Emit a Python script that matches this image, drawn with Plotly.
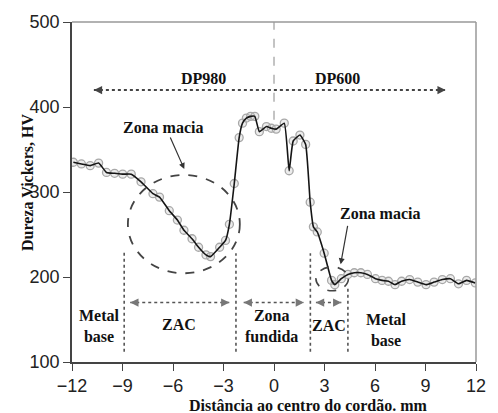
import plotly.graph_objects as go

# Hardness profile data
dist_mm = [-11.92, -11.44, -10.92, -10.42, -9.95, -9.47, -8.99, -8.48, -7.9, -7.19,
           -6.8, -6.22, -5.74, -5.35, -4.87, -4.48, -4.04, -3.77, -3.23, -2.88,
           -2.65, -2.36, -2.07, -1.87, -1.64, -1.39, -1.14, -0.87, -0.45, -0.16,
           0.13, 0.61, 0.9, 1.14, 1.54, 1.88, 2.15, 2.34, 2.57, 2.98,
           3.42, 3.61, 4.0, 4.39, 4.77, 5.16, 5.55, 6.03, 6.42, 6.8,
           7.19, 7.58, 8.06, 8.54, 9.03, 9.51, 10.0, 10.48, 10.96, 11.44, 11.96]
hardness_hv = [335, 333, 331, 334, 323, 322, 321, 321, 312, 298,
               294, 278, 267, 255, 245, 235, 226, 224, 235, 243,
               262, 310, 364, 381, 387, 389, 389, 371, 377, 375,
               374, 381, 325, 360, 367, 356, 288, 259, 253, 228,
               196, 191, 198, 203, 205, 205, 203, 198, 196, 195,
               191, 195, 197, 194, 191, 194, 197, 198, 192, 196, 193]

x_ticks = [-12, -9, -6, -3, 0, 3, 6, 9, 12]
y_ticks = [100, 200, 300, 400, 500]

# zone boundaries and labels
zone_bounds = [-8.9, -2.26, 2.16, 4.39]
zone_bound_top = [230, 228, 228, 188]
zone_arrows = [(-8.54, -2.65), (-1.8, 1.78), (2.49, 4.0)]
zone_labels = ["Metal<br>base", "ZAC", "Zona<br>fundida", "ZAC", "Metal<br>base"]
zone_label_x = [-10.38, -5.64, -0.16, 3.26, 6.68]
zone_label_y = [142, 144, 142, 143, 138]

serif = "Liberation Serif"
txt_col = "#111111"

fig = go.Figure()

# vertical dashed centre line
fig.add_trace(go.Scatter(x=[0, 0], y=[385, 500], mode="lines",
                         line=dict(color="#888888", width=1, dash="dash"),
                         hoverinfo="skip", showlegend=False))

# DP arrow line
fig.add_trace(go.Scatter(x=[-10.7, 10.2], y=[420, 420], mode="lines",
                         line=dict(color="#444444", width=1.8, dash="dot"),
                         hoverinfo="skip", showlegend=False))

# zone boundary dotted lines
for xb, yt in zip(zone_bounds, zone_bound_top):
    fig.add_trace(go.Scatter(x=[xb, xb], y=[112, yt], mode="lines",
                             line=dict(color="#555555", width=1.6, dash="dot"),
                             hoverinfo="skip", showlegend=False))

# zone horizontal arrows
for a, b in zone_arrows:
    fig.add_trace(go.Scatter(x=[a, b], y=[170, 170], mode="lines",
                             line=dict(color="#555555", width=1.6, dash="dot"),
                             hoverinfo="skip", showlegend=False))

# data markers (under the line)
fig.add_trace(go.Scatter(x=dist_mm, y=hardness_hv, mode="markers",
                         marker=dict(symbol="circle", size=8,
                                     color="rgba(200,200,200,0.35)",
                                     line=dict(color="#a8a8a8", width=1.3)),
                         hoverinfo="skip", showlegend=False))
# data line
fig.add_trace(go.Scatter(x=dist_mm, y=hardness_hv, mode="lines",
                         line=dict(color="#151515", width=1.6, shape="spline", smoothing=0.4),
                         showlegend=False))

ann = []
# arrowheads
def head(x, y, dx, dy, col="#444444"):
    ann.append(dict(x=x, y=y, xref="x", yref="y", ax=dx, ay=dy, text="",
                    showarrow=True, arrowhead=2, arrowsize=1.1, arrowwidth=1.5,
                    arrowcolor=col, standoff=0, startstandoff=0))

head(-10.7, 420, 8, 0)
head(10.2, 420, -8, 0)
for a, b in zone_arrows:
    head(a, 170, 8, 0, "#777777")
    head(b, 170, -8, 0, "#777777")

def label(x, y, t):
    ann.append(dict(x=x, y=y, xref="x", yref="y", text="<b>" + t + "</b>",
                    showarrow=False, font=dict(family=serif, size=16, color=txt_col)))

label(-4.17, 433, "DP980")
label(3.8, 434, "DP600")
label(-6.6, 376, "Zona macia")
label(6.32, 275, "Zona macia")
for t, x, y in zip(zone_labels, zone_label_x, zone_label_y):
    label(x, y, t)

# pointer arrows
ann.append(dict(x=-5.33, y=327, ax=-6.2, ay=366, xref="x", yref="y", axref="x", ayref="y",
                text="", showarrow=True, arrowhead=2, arrowsize=1, arrowwidth=1.2,
                arrowcolor="#333333"))
ann.append(dict(x=3.96, y=215, ax=4.39, ay=262, xref="x", yref="y", axref="x", ayref="y",
                text="", showarrow=True, arrowhead=2, arrowsize=1, arrowwidth=1.2,
                arrowcolor="#333333"))

# axis titles
ann.append(dict(x=2.03, y=-0.128, xref="x", yref="paper", yanchor="middle",
                text="<b>Distância ao centro do cordão. mm</b>", showarrow=False,
                font=dict(family=serif, size=16, color=txt_col)))
ann.append(dict(x=-0.1377, y=0.529, xref="paper", yref="paper", textangle=-90,
                text="<b>Dureza Vickers, HV</b>", showarrow=False,
                font=dict(family=serif, size=16, color=txt_col)))

shapes = [
    dict(type="circle", xref="x", yref="y", x0=-8.68, x1=-2.03, y0=204.4, y1=320,
         line=dict(color="#444444", width=1.8, dash="dash")),
    dict(type="circle", xref="x", yref="y", x0=2.49, x1=4.42, y0=183.8, y1=211.9,
         line=dict(color="#444444", width=1.6, dash="dash")),
    dict(type="line", xref="paper", yref="paper", x0=0, x1=1, y0=1, y1=1,
         line=dict(color="#999999", width=1.5)),
    dict(type="line", xref="paper", yref="paper", x0=1, x1=1, y0=0, y1=1,
         line=dict(color="#999999", width=1.5)),
]

fig.update_layout(
    width=498, height=413,
    margin=dict(l=72, r=12, t=20, b=51),
    paper_bgcolor="white", plot_bgcolor="white",
    annotations=ann, shapes=shapes,
    xaxis=dict(range=[-12, 12], tickvals=x_ticks, ticks="outside", ticklen=7,
               tickcolor="#444444", showline=True, linecolor="#444444", linewidth=1.5,
               showgrid=False, zeroline=False,
               tickfont=dict(family="Liberation Sans", size=18, color="#222222")),
    yaxis=dict(range=[100, 500], tickvals=y_ticks, ticks="outside", ticklen=7,
               tickcolor="#444444", showline=True, linecolor="#444444", linewidth=1.5,
               showgrid=False, zeroline=False,
               tickfont=dict(family="Liberation Sans", size=18, color="#222222")),
)

fig.write_html("out.html")
